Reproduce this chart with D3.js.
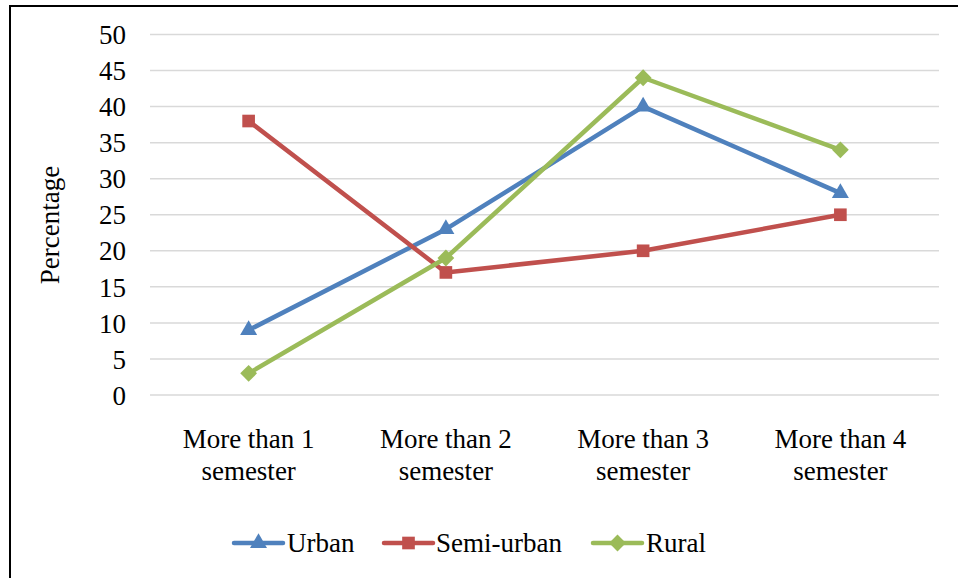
<!DOCTYPE html>
<html>
<head>
<meta charset="utf-8">
<script src="https://cdn.jsdelivr.net/npm/d3@7"></script>
<style>
  html, body { margin: 0; padding: 0; background: #fff; }
  svg { display: block; }
  text { font-family: "Liberation Serif", "Times New Roman", "DejaVu Serif", serif; }
</style>
</head>
<body>
<svg id="chart" width="958" height="578"></svg>
<script>
// Data
const categories = ["More than 1 semester", "More than 2 semester", "More than 3 semester", "More than 4 semester"];
const categoryLines = [["More than 1", "semester"], ["More than 2", "semester"], ["More than 3", "semester"], ["More than 4", "semester"]];
const urban = [9, 23, 40, 28];
const semiUrban = [38, 17, 20, 25];
const rural = [3, 19, 44, 34];
const yTicks = [0, 5, 10, 15, 20, 25, 30, 35, 40, 45, 50];
const seriesNames = ["Urban", "Semi-urban", "Rural"];

const series = [
  { name: seriesNames[0], values: urban, color: "#4F81BD", symbol: d3.symbolTriangle, size: 125 },
  { name: seriesNames[1], values: semiUrban, color: "#C0504D", symbol: d3.symbolSquare, size: 160 },
  { name: seriesNames[2], values: rural, color: "#9BBB59", symbol: d3.symbolDiamond2, size: 180 }
];

const svg = d3.select("#chart");
const fs = 27;

// Outer frame
svg.append("rect")
  .attr("x", 10).attr("y", 6)
  .attr("width", 960).attr("height", 600)
  .attr("fill", "none").attr("stroke", "#000").attr("stroke-width", 2);

const plot = { left: 150, right: 939, top: 34.5, bottom: 395 };

const x = d3.scaleBand().domain(categories).range([plot.left, plot.right]);
const y = d3.scaleLinear().domain([0, 50]).range([plot.bottom, plot.top]);
const cx = c => x(c) + x.bandwidth() / 2;

// Gridlines
svg.append("g")
  .selectAll("line")
  .data(yTicks)
  .join("line")
  .attr("x1", plot.left).attr("x2", plot.right)
  .attr("y1", d => y(d)).attr("y2", d => y(d))
  .attr("stroke", "#D9D9D9").attr("stroke-width", 1.5);

// Y axis labels
const yAxis = d3.axisLeft(y).tickValues(yTicks).tickSize(0).tickPadding(0);
const yg = svg.append("g").attr("transform", `translate(126,0)`).call(yAxis);
yg.select(".domain").remove();
yg.attr("font-family", null).attr("font-size", null);
yg.selectAll("text")
  .attr("font-size", fs).attr("fill", "#000")
  .attr("dy", "0.34em");

// Y axis title
svg.append("text")
  .attr("transform", "translate(59,225) rotate(-90)")
  .attr("text-anchor", "middle")
  .attr("font-size", fs).attr("fill", "#000")
  .text("Percentage");

// X axis labels (two lines each)
const xg = svg.append("g");
categories.forEach((c, i) => {
  const t = xg.append("text")
    .attr("x", cx(c))
    .attr("y", 448)
    .attr("text-anchor", "middle")
    .attr("font-size", fs).attr("fill", "#000");
  categoryLines[i].forEach((ln, j) => {
    t.append("tspan")
      .attr("x", cx(c))
      .attr("dy", j === 0 ? 0 : 32)
      .text(ln);
  });
});

// Lines and markers
const line = d3.line()
  .x((d, i) => cx(categories[i]))
  .y(d => y(d));

series.forEach(s => {
  svg.append("path")
    .datum(s.values)
    .attr("d", line)
    .attr("fill", "none")
    .attr("stroke", s.color)
    .attr("stroke-width", 4.5)
    .attr("stroke-linejoin", "round")
    .attr("stroke-linecap", "round");
});

series.forEach(s => {
  svg.append("g")
    .selectAll("path")
    .data(s.values)
    .join("path")
    .attr("transform", (d, i) => `translate(${cx(categories[i])},${y(d)})`)
    .attr("d", d3.symbol().type(s.symbol).size(s.size))
    .attr("fill", s.color);
});

// Legend
const legendItems = [
  { x0: 234, x1: 283, tx: 287 },
  { x0: 384, x1: 433, tx: 436 },
  { x0: 593, x1: 642, tx: 646 }
];
const ly = 543;
series.forEach((s, i) => {
  const L = legendItems[i];
  svg.append("line")
    .attr("x1", L.x0).attr("x2", L.x1).attr("y1", ly).attr("y2", ly)
    .attr("stroke", s.color).attr("stroke-width", 4.5).attr("stroke-linecap", "round");
  svg.append("path")
    .attr("transform", `translate(${(L.x0 + L.x1) / 2},${ly})`)
    .attr("d", d3.symbol().type(s.symbol).size(s.size))
    .attr("fill", s.color);
  svg.append("text")
    .attr("x", L.tx).attr("y", ly).attr("dy", "0.34em")
    .attr("font-size", fs).attr("fill", "#000")
    .text(s.name);
});
</script>
</body>
</html>
